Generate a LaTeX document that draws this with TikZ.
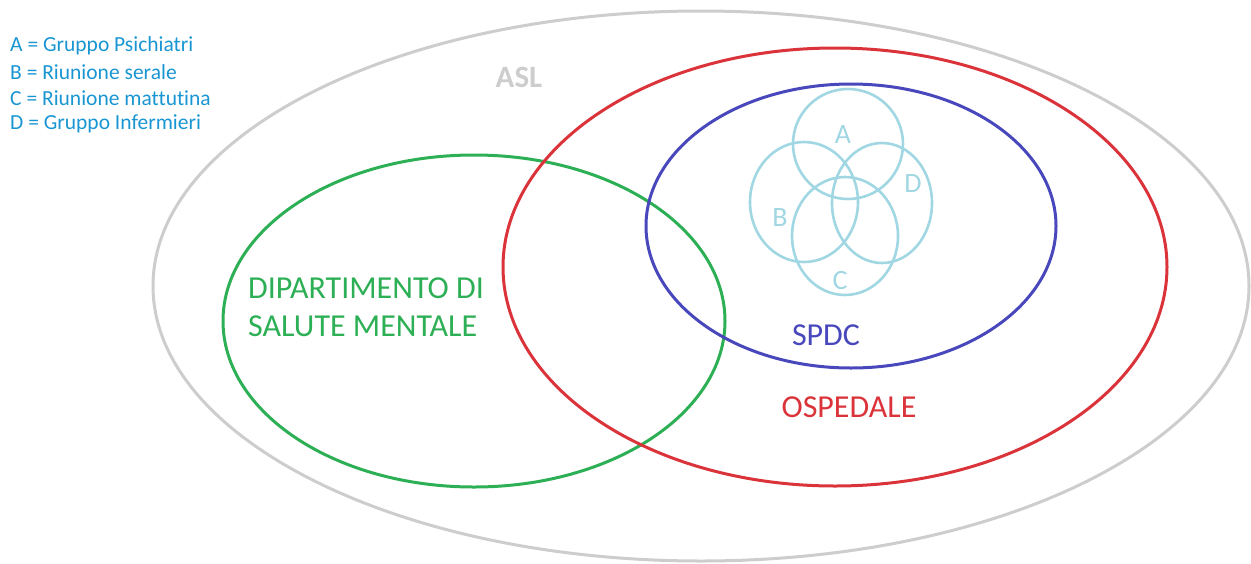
\documentclass[tikz,border=0pt]{standalone}
\usepackage{fontspec}
\setmainfont{Carlito}[Ligatures=NoCommon]
\usepackage{tikz}
\usetikzlibrary{positioning}

\definecolor{aslgray}{RGB}{205,205,205}
\definecolor{ospred}{RGB}{218,52,58}
\definecolor{spdcblue}{RGB}{72,72,188}
\definecolor{dsmgreen}{RGB}{45,175,85}
\definecolor{setblue}{RGB}{160,215,226}
\definecolor{legblue}{RGB}{25,150,210}

\begin{document}
\begin{tikzpicture}[x=1pt, y=-1pt,
    insieme/.style={line width=3pt},
    cerchio/.style={line width=2.6pt, setblue},
    grande/.style={font=\fontsize{32}{38}\selectfont},
    lettera/.style={font=\fontsize{28}{30}\selectfont, text=setblue},
    legenda/.style={font=\fontsize{21.5}{24}\selectfont, text=legblue, anchor=west, inner sep=0pt}]
    \useasboundingbox (0,0) rectangle (1251,563);

    % the big sets
    \draw[insieme, aslgray] (701,286) ellipse [x radius=548pt, y radius=275pt];
    \draw[insieme, dsmgreen] (474,321) ellipse [x radius=251pt, y radius=166pt];
    \draw[insieme, ospred] (835,267) ellipse [x radius=332pt, y radius=219pt];
    \draw[insieme, spdcblue] (851,226) ellipse [x radius=205pt, y radius=142pt];

    % four small sets inside SPDC
    \foreach \cx/\cy/\rx/\ry in {848/144/55/55, 804/202/54/60, 882/203/50/60, 845/236/53/59}
        \draw[cerchio] (\cx,\cy) ellipse [x radius=\rx pt, y radius=\ry pt];

    \foreach \x/\y/\name/\id in {843/135/A/setA, 780/218/B/setB, 840/281/C/setC, 913/184/D/setD}
        \node[lettera] (\id) at (\x,\y) {\name};

    % labels
    \node[text=aslgray, font=\fontsize{31}{34}\selectfont\bfseries] (asl) at (519,77) {ASL};
    \node[grande, text=dsmgreen, align=left, anchor=west, inner sep=0pt] (dsm) at (248,307) {DIPARTIMENTO DI\\SALUTE MENTALE};
    \node[grande, text=spdcblue] (spdc) at (826,335) {SPDC};
    \node[grande, text=ospred] (osp) at (849,407) {OSPEDALE};

    % legend
    \foreach \i/\name in {0/{A = Gruppo Psichiatri}, 1/{B = Riunione serale}, 2/{C = Riunione mattutina}, 3/{D = Gruppo Infermieri}}
        \node[legenda] (leg\i) at (10, 46+26*\i) {\name};
\end{tikzpicture}
\end{document}
